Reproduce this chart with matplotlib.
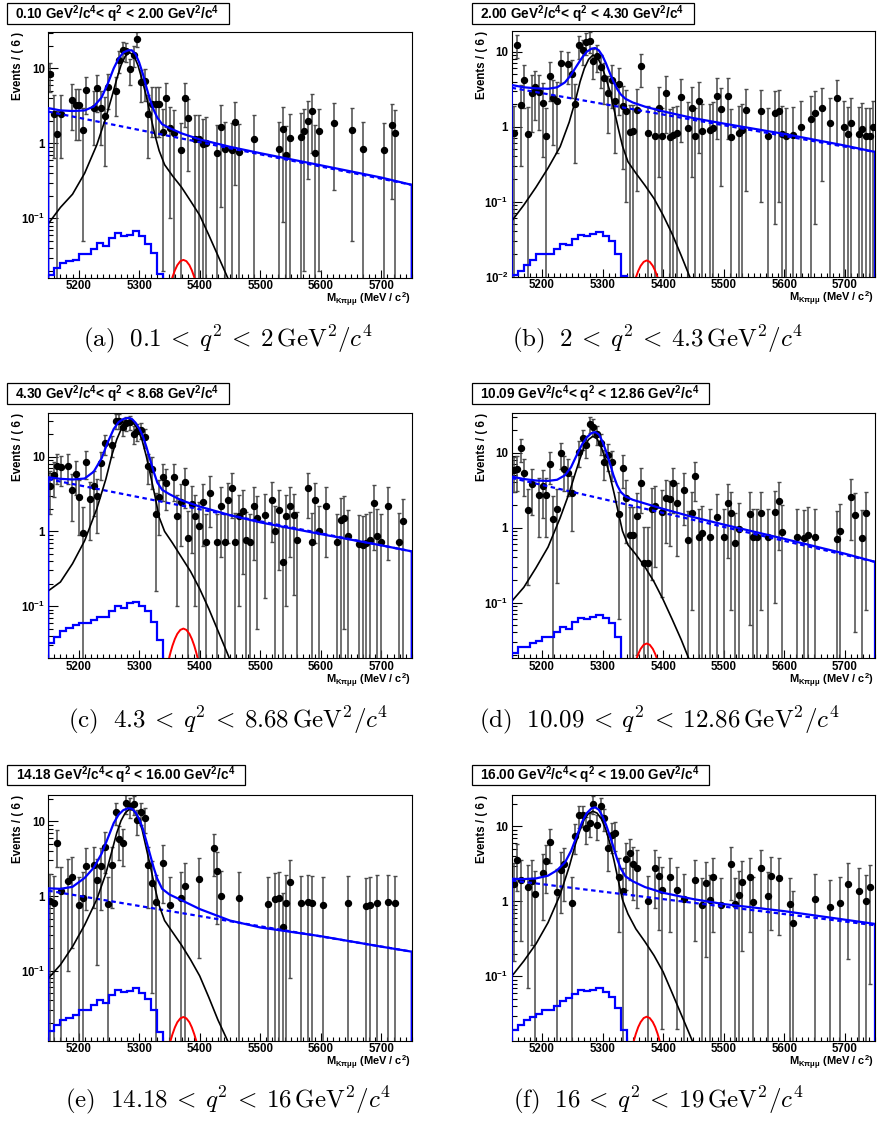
#!/usr/bin/env python3
"""
Six RooFit-style mass fits in q^2 bins, redrawn with matplotlib.
"""
import numpy as np
import matplotlib
matplotlib.use("Agg")
import matplotlib.pyplot as plt
from matplotlib.patches import Rectangle
from matplotlib.ticker import LogLocator, MultipleLocator, NullFormatter

# ---------------- data ----------------
# (a) 0.10 < q2 < 2.00
X_A = [5153, 5159, 5165, 5171, 5189, 5195, 5201, 5207, 5213, 5225, 5231, 5237, 5243, 5249, 5261, 5267,
       5273, 5279, 5285, 5291, 5297, 5303, 5309, 5315, 5321, 5327, 5333, 5339, 5345, 5351, 5357, 5369,
       5375, 5381, 5393, 5399, 5405, 5411, 5429, 5435, 5441, 5453, 5459, 5465, 5489, 5531, 5537, 5543,
       5549, 5567, 5573, 5579, 5585, 5591, 5597, 5621, 5651, 5669, 5705, 5717, 5723]
Y_A = [8.3, 2.5, 1.35, 2.5, 3.8, 3.2, 3.2, 1.5, 5.1, 3.0, 5.4, 3.0, 2.3, 5.7, 5.0, 12.8,
       17.4, 17.0, 9.7, 15.0, 24.9, 6.6, 6.8, 2.5, 3.4, 3.4, 3.4, 1.43, 4.0, 1.6, 1.39, 0.81,
       4.0, 2.18, 1.15, 1.15, 0.97, 1.02, 0.74, 1.67, 0.83, 0.81, 1.92, 0.77, 1.13, 0.83, 1.57, 0.71,
       1.18, 1.23, 1.44, 2.0, 2.67, 0.74, 1.44, 1.85, 1.49, 0.83, 0.81, 1.75, 1.39]
ERR_A = [3.4, 1.87, 1.37, 1.87, 2.3, 2.1, 2.1, 1.45, 2.67, 2.05, 2.75, 2.05, 1.8, 2.82, 2.65, 4.23,
         4.94, 4.88, 3.69, 4.58, 5.9, 3.04, 3.09, 1.87, 2.18, 2.18, 2.18, 1.41, 2.37, 1.5, 1.39, 1.06,
         2.37, 1.75, 1.27, 1.27, 1.17, 1.2, 1.02, 1.53, 1.08, 1.06, 1.64, 1.04, 1.26, 1.08, 1.48, 1.0,
         1.29, 1.31, 1.42, 1.67, 1.93, 1.02, 1.42, 1.61, 1.44, 1.08, 1.06, 1.57, 1.39]

# (b) 2.00 < q2 < 4.30
X_B = [5153, 5159, 5165, 5171, 5177, 5183, 5189, 5195, 5201, 5207,
       5213, 5219, 5225, 5231, 5243, 5249, 5255, 5261, 5267, 5273,
       5279, 5285, 5291, 5297, 5303, 5309, 5315, 5321, 5327, 5333,
       5339, 5345, 5351, 5357, 5363, 5375, 5387, 5393, 5399, 5405,
       5411, 5417, 5423, 5429, 5441, 5447, 5453, 5459, 5465, 5477,
       5483, 5489, 5495, 5507, 5513, 5525, 5531, 5537, 5561, 5573,
       5585, 5591, 5597, 5603, 5615, 5627, 5645, 5651, 5663, 5675,
       5687, 5699, 5705, 5711, 5723, 5729, 5735, 5741, 5747]
Y_B = [0.83, 12.4, 1.95, 4.2, 0.79, 2.85, 3.4, 2.9, 2.1, 0.75,
       4.8, 2.4, 2.2, 7.0, 6.8, 5.1, 2.0, 12.2, 10.6, 13.3,
       14.0, 7.6, 8.8, 6.2, 4.5, 2.8, 4.2, 2.2, 3.7, 1.9,
       1.6, 0.86, 0.87, 1.67, 6.4, 0.83, 0.75, 1.8, 0.75, 2.8,
       0.73, 0.77, 0.83, 2.5, 0.97, 1.8, 0.75, 2.2, 0.88, 0.9,
       0.97, 2.6, 1.7, 2.6, 0.73, 0.83, 0.9, 1.67, 1.6, 0.75,
       1.5, 1.6, 0.81, 0.75, 0.77, 1.0, 1.27, 1.5, 1.76, 1.13,
       2.4, 1.0, 0.79, 1.13, 0.79, 0.92, 0.75, 0.75, 1.0]
ERR_B = [1.08, 4.17, 1.65, 2.42, 1.05, 2.0, 2.18, 2.01, 1.71, 1.02,
         2.59, 1.83, 1.75, 3.13, 3.09, 2.67, 1.67, 4.13, 3.85, 4.32,
         4.43, 3.26, 3.51, 2.95, 2.51, 1.98, 2.42, 1.75, 2.28, 1.63,
         1.5, 1.1, 1.1, 1.53, 2.99, 1.08, 1.02, 1.59, 1.02, 1.98,
         1.01, 1.04, 1.08, 1.87, 1.17, 1.59, 1.02, 1.75, 1.11, 1.12,
         1.17, 1.91, 1.54, 1.91, 1.01, 1.08, 1.12, 1.53, 1.5, 1.02,
         1.45, 1.5, 1.06, 1.02, 1.04, 1.18, 1.33, 1.45, 1.57, 1.26,
         1.83, 1.18, 1.05, 1.26, 1.05, 1.13, 1.02, 1.02, 1.18]

# (c) 4.30 < q2 < 8.68
X_C = [5153, 5159, 5165, 5171, 5183, 5189, 5195, 5201, 5207, 5213,
       5219, 5225, 5231, 5237, 5243, 5255, 5261, 5267, 5273, 5279,
       5285, 5291, 5297, 5303, 5309, 5315, 5321, 5327, 5333, 5339,
       5345, 5357, 5363, 5369, 5375, 5381, 5387, 5393, 5399, 5405,
       5411, 5417, 5429, 5435, 5441, 5447, 5453, 5459, 5465, 5471,
       5477, 5483, 5489, 5495, 5507, 5519, 5525, 5531, 5537, 5543,
       5549, 5555, 5561, 5579, 5585, 5591, 5597, 5609, 5627, 5633,
       5639, 5645, 5663, 5669, 5675, 5681, 5687, 5693, 5699, 5711,
       5729, 5735]
Y_C = [4.1, 5.7, 7.6, 7.2, 7.6, 3.6, 5.9, 2.9, 0.95, 8.4,
       2.7, 4.0, 3.0, 8.2, 15.2, 14.5, 30.3, 30.3, 24.7, 28.2,
       28.8, 20.3, 21.8, 23.0, 18.1, 7.6, 6.8, 1.7, 2.9, 5.3,
       4.4, 5.3, 1.59, 2.5, 4.6, 0.81, 2.3, 1.6, 1.19, 2.5,
       0.71, 3.3, 0.71, 2.2, 0.71, 2.6, 3.8, 0.73, 1.59, 1.9,
       0.76, 0.72, 2.16, 1.5, 1.65, 2.65, 1.0, 1.95, 0.39, 1.6,
       2.2, 1.67, 0.77, 3.8, 0.73, 2.6, 1.02, 2.2, 0.71, 1.43,
       1.5, 0.86, 0.68, 0.66, 0.7, 0.77, 2.4, 0.87, 0.71, 2.16,
       0.73, 1.36]
ERR_C = [2.4, 2.82, 3.26, 3.17, 3.26, 2.24, 2.87, 2.01, 1.15, 3.43,
         1.94, 2.37, 2.05, 3.39, 4.61, 4.51, 6.51, 6.51, 5.88, 6.28,
         6.35, 5.33, 5.52, 5.67, 5.03, 3.26, 3.09, 1.54, 2.01, 2.72,
         2.48, 2.72, 1.49, 1.87, 2.54, 1.06, 1.79, 1.5, 1.29, 1.87,
         1.0, 2.15, 1.0, 1.75, 1.0, 1.91, 2.31, 1.01, 1.49, 1.63,
         1.03, 1.0, 1.74, 1.45, 1.52, 1.93, 1.18, 1.65, 0.74, 1.5,
         1.75, 1.53, 1.04, 2.31, 1.01, 1.91, 1.2, 1.75, 1.0, 1.41,
         1.45, 1.1, 0.98, 0.96, 0.99, 1.04, 1.83, 1.1, 1.0, 1.74,
         1.01, 1.38]

# (d) 10.09 < q2 < 12.86
X_D = [5153, 5159, 5165, 5171, 5177, 5183, 5195, 5201, 5207, 5213,
       5219, 5225, 5231, 5237, 5243, 5249, 5261, 5267, 5273, 5279,
       5285, 5291, 5297, 5303, 5309, 5315, 5327, 5333, 5339, 5345,
       5351, 5357, 5363, 5369, 5375, 5381, 5387, 5399, 5405, 5411,
       5417, 5423, 5435, 5441, 5447, 5453, 5459, 5465, 5477, 5489,
       5501, 5507, 5513, 5519, 5525, 5543, 5549, 5555, 5561, 5573,
       5585, 5591, 5597, 5621, 5633, 5639, 5651, 5687, 5693, 5711,
       5717, 5729, 5735]
Y_D = [5.9, 6.0, 11.4, 5.4, 1.72, 3.8, 2.7, 3.6, 2.7, 7.0,
       1.29, 1.75, 9.8, 6.0, 5.4, 2.9, 10.3, 15.5, 12.7, 24.1,
       22.2, 17.7, 13.6, 7.6, 9.3, 7.4, 1.52, 6.3, 2.5, 0.8,
       0.8, 1.44, 3.9, 0.34, 0.34, 1.77, 1.96, 1.63, 2.5, 2.4,
       3.9, 2.15, 3.2, 0.69, 1.55, 4.9, 0.74, 0.84, 0.74, 1.4,
       0.74, 2.1, 1.55, 0.63, 0.95, 1.5, 0.74, 0.74, 1.55, 0.74,
       1.6, 2.3, 0.88, 0.76, 0.72, 0.81, 0.74, 0.7, 0.91, 2.6,
       1.48, 0.72, 1.55]
ERR_D = [2.87, 2.9, 4.0, 2.75, 1.55, 2.31, 1.94, 2.24, 1.94, 3.13,
         1.34, 1.57, 3.7, 2.9, 2.75, 2.01, 3.8, 4.66, 4.22, 5.81,
         5.58, 4.98, 4.36, 3.26, 3.61, 3.22, 1.46, 2.97, 1.87, 1.06,
         1.06, 1.42, 2.34, 0.69, 0.69, 1.57, 1.66, 1.51, 1.87, 1.83,
         2.34, 1.73, 2.12, 0.98, 1.47, 2.62, 1.02, 1.08, 1.02, 1.4,
         1.02, 1.71, 1.47, 0.94, 1.15, 1.45, 1.02, 1.02, 1.47, 1.02,
         1.5, 1.79, 1.11, 1.03, 1.0, 1.06, 1.02, 0.99, 1.13, 1.91,
         1.44, 1.0, 1.47]

# (e) 14.18 < q2 < 16.00
X_E = [5153, 5159, 5165, 5171, 5183, 5189, 5201, 5207, 5213, 5225,
       5231, 5237, 5243, 5249, 5255, 5261, 5267, 5273, 5279, 5285,
       5291, 5297, 5303, 5309, 5315, 5321, 5327, 5339, 5351, 5369,
       5375, 5399, 5423, 5429, 5435, 5465, 5513, 5525, 5531, 5537,
       5543, 5549, 5567, 5579, 5585, 5603, 5645, 5675, 5681, 5693,
       5711, 5723]
Y_E = [0.86, 0.81, 5.1, 1.18, 1.6, 1.78, 0.77, 0.95, 2.55, 2.6,
       1.64, 2.55, 4.6, 0.78, 2.6, 13.2, 5.9, 5.2, 17.6, 16.0,
       16.9, 10.4, 13.2, 11.0, 2.6, 1.5, 0.84, 2.8, 0.76, 0.93,
       1.36, 1.69, 4.35, 2.16, 1.0, 0.95, 0.78, 0.9, 0.93, 0.38,
       0.82, 1.56, 0.8, 0.84, 0.8, 0.77, 0.8, 0.73, 0.77, 0.82,
       0.84, 0.8]
ERR_E = [1.1, 1.06, 2.67, 1.29, 1.5, 1.58, 1.04, 1.15, 1.89, 1.91,
         1.52, 1.89, 2.54, 1.04, 1.91, 4.3, 2.87, 2.7, 4.96, 4.73,
         4.86, 3.82, 4.3, 3.92, 1.91, 1.45, 1.08, 1.98, 1.03, 1.14,
         1.38, 1.54, 2.47, 1.74, 1.18, 1.15, 1.04, 1.12, 1.14, 0.73,
         1.07, 1.48, 1.06, 1.08, 1.06, 1.04, 1.06, 1.01, 1.04, 1.07,
         1.08, 1.06]

# (f) 16.00 < q2 < 19.00
X_F = [5153, 5159, 5165, 5177, 5183, 5189, 5201, 5207, 5213, 5225,
       5231, 5237, 5249, 5255, 5261, 5267, 5273, 5279, 5285, 5291,
       5297, 5303, 5309, 5315, 5321, 5327, 5333, 5339, 5345, 5351,
       5357, 5375, 5387, 5393, 5399, 5411, 5423, 5435, 5453, 5465,
       5471, 5477, 5483, 5495, 5513, 5519, 5525, 5531, 5543, 5549,
       5561, 5573, 5579, 5591, 5609, 5615, 5651, 5675, 5693, 5705,
       5723, 5735, 5741]
Y_F = [1.7, 3.6, 1.95, 1.54, 1.89, 1.25, 2.4, 3.5, 6.2, 1.33,
       2.6, 3.1, 0.95, 7.5, 14.0, 14.3, 9.5, 11.1, 19.9, 10.5,
       18.5, 13.0, 5.2, 7.7, 8.1, 2.1, 1.36, 3.7, 4.4, 3.15,
       2.8, 1.0, 2.8, 2.15, 1.43, 2.1, 1.43, 1.07, 1.95, 0.9,
       1.75, 1.05, 2.1, 0.9, 3.15, 0.93, 1.23, 1.81, 2.1, 0.97,
       2.8, 1.17, 2.15, 2.05, 0.93, 0.51, 1.07, 0.84, 0.95, 1.72,
       1.39, 1.02, 1.55]
ERR_F = [1.54, 2.24, 1.65, 1.47, 1.63, 1.32, 1.83, 2.21, 2.95, 1.36,
         1.91, 2.08, 1.15, 3.24, 4.43, 4.47, 3.65, 3.94, 5.28, 3.83,
         5.09, 4.27, 2.7, 3.28, 3.37, 1.71, 1.38, 2.28, 2.48, 2.1,
         1.98, 1.18, 1.98, 1.73, 1.41, 1.71, 1.41, 1.22, 1.65, 1.12,
         1.57, 1.21, 1.71, 1.12, 2.1, 1.14, 1.31, 1.59, 1.71, 1.17,
         1.98, 1.28, 1.73, 1.69, 1.14, 0.85, 1.22, 1.08, 1.15, 1.55,
         1.39, 1.2, 1.47]

# signal component (black), sampled along the curve
SIG_X = [5150, 5170, 5190, 5210, 5230, 5245, 5255, 5263, 5270, 5277, 5284, 5291, 5298, 5305,
         5312, 5319, 5326, 5333, 5342, 5355, 5370, 5385, 5400, 5415, 5430, 5445, 5460]
SIG_A = [0.085, 0.14, 0.21, 0.40, 0.95, 2.2, 4.2, 7.2, 11.0, 14.5, 16.2, 15.0, 11.0, 7.0,
         4.2, 2.3, 1.3, 0.8, 0.52, 0.37, 0.26, 0.17, 0.11, 0.06, 0.032, 0.017, 0.009]
SIG_B = [0.055, 0.09, 0.155, 0.28, 0.54, 1.15, 2.2, 4.0, 6.0, 7.9, 9.0, 8.6, 6.6, 4.6,
         3.0, 1.7, 0.95, 0.55, 0.34, 0.24, 0.165, 0.11, 0.066, 0.037, 0.019, 0.0095, 0.005]
SIG_C = [0.16, 0.21, 0.37, 0.75, 2.0, 5.0, 10.5, 17.0, 23.0, 27.5, 29.5, 28.0, 23.0, 16.5,
         10.0, 5.5, 3.0, 1.55, 1.0, 0.7, 0.45, 0.29, 0.17, 0.092, 0.047, 0.024, 0.012]
SIG_D = [0.104, 0.16, 0.29, 0.55, 1.35, 2.9, 5.3, 8.4, 12.0, 15.0, 16.5, 15.3, 11.8, 8.0,
         5.0, 2.9, 1.6, 0.9, 0.59, 0.44, 0.3, 0.19, 0.11, 0.06, 0.032, 0.016, 0.008]
SIG_E = [0.079, 0.12, 0.21, 0.41, 0.9, 2.0, 4.0, 7.0, 10.2, 13.0, 14.6, 14.0, 11.5, 7.7,
         4.3, 2.4, 1.3, 0.75, 0.47, 0.33, 0.22, 0.14, 0.085, 0.044, 0.022, 0.012, 0.006]
SIG_F = [0.1, 0.16, 0.27, 0.52, 1.23, 2.9, 5.7, 9.0, 12.5, 14.8, 15.9, 15.0, 12.6, 9.3,
         6.0, 3.5, 1.9, 1.05, 0.68, 0.43, 0.29, 0.19, 0.115, 0.06, 0.031, 0.016, 0.008]

# total fit (solid blue)
TOT_X = [5150, 5170, 5190, 5210, 5225, 5238, 5248, 5258, 5266, 5274, 5282, 5288, 5294, 5300,
         5306, 5312, 5318, 5324, 5330, 5338, 5350, 5370, 5400, 5450, 5500, 5600, 5700, 5750]
TOT_A = [2.95, 2.75, 2.7, 2.75, 3.1, 4.1, 6.2, 10.0, 13.5, 16.3, 17.4, 17.4, 15.5, 12.0,
         8.5, 5.6, 3.8, 2.8, 2.2, 1.8, 1.6, 1.36, 1.13, 0.9, 0.74, 0.51, 0.35, 0.28]
TOT_B = [3.6, 3.35, 3.25, 3.2, 3.35, 3.9, 4.9, 6.6, 8.3, 10.0, 11.0, 11.2, 10.4, 8.8,
         6.9, 5.2, 4.0, 3.2, 2.7, 2.35, 2.1, 1.85, 1.6, 1.3, 1.1, 0.8, 0.56, 0.46]
TOT_C = [5.3, 5.05, 4.95, 5.1, 6.3, 9.5, 15.5, 23.5, 29.0, 32.0, 33.0, 32.0, 28.5, 24.0,
         19.0, 13.5, 9.2, 6.3, 4.5, 3.6, 3.15, 2.6, 2.15, 1.65, 1.32, 0.92, 0.65, 0.54]
TOT_D = [4.8, 4.45, 4.25, 4.2, 4.35, 5.0, 6.4, 9.5, 12.8, 16.0, 18.3, 18.8, 17.5, 14.0,
         10.3, 7.3, 5.0, 3.7, 3.0, 2.6, 2.35, 2.1, 1.78, 1.38, 1.1, 0.71, 0.45, 0.35]
TOT_E = [1.27, 1.25, 1.33, 1.75, 2.4, 3.7, 5.9, 9.5, 12.3, 14.2, 15.0, 14.8, 13.2, 10.8,
         8.0, 5.4, 3.6, 2.4, 1.7, 1.25, 1.05, 0.88, 0.67, 0.47, 0.38, 0.29, 0.21, 0.18]
TOT_F = [2.0, 1.98, 2.02, 2.2, 2.6, 3.3, 4.7, 7.6, 11.3, 15.0, 17.4, 17.9, 16.6, 13.6,
         10.4, 7.5, 5.3, 3.7, 2.75, 2.15, 1.85, 1.55, 1.3, 1.07, 0.92, 0.74, 0.57, 0.5]

# combinatorial background (dashed blue), straight on the log axis
BKG_X = [5150, 5750]
BKG_A = [2.65, 0.28]
BKG_B = [3.3, 0.46]
BKG_C = [5.0, 0.54]
BKG_D = [4.6, 0.35]
BKG_E = [1.18, 0.18]
BKG_F = [1.9, 0.48]

# peaking background histogram (blue steps), 10 MeV bins
HIST_EDGES = [5150, 5160, 5170, 5180, 5190, 5200, 5210, 5220, 5230, 5240, 5250,
              5260, 5270, 5280, 5290, 5300, 5310, 5320, 5330, 5340, 5350]
HIST_A = [0.0175, 0.0215, 0.0255, 0.027, 0.028, 0.034, 0.034, 0.039, 0.047, 0.043,
          0.055, 0.064, 0.059, 0.061, 0.068, 0.058, 0.045, 0.035, 0.018, 0.008]
HIST_B = [0.0105, 0.012, 0.0143, 0.0167, 0.0197, 0.0197, 0.0197, 0.0235, 0.0274, 0.026,
          0.032, 0.036, 0.035, 0.037, 0.039, 0.035, 0.030, 0.020, 0.0103, 0.005]
HIST_C = [0.032, 0.038, 0.046, 0.051, 0.055, 0.060, 0.060, 0.066, 0.071, 0.071,
          0.085, 0.10, 0.095, 0.11, 0.115, 0.10, 0.085, 0.062, 0.035, 0.01]
HIST_D = [0.021, 0.026, 0.026, 0.029, 0.031, 0.035, 0.035, 0.040, 0.047, 0.044,
          0.056, 0.063, 0.061, 0.064, 0.068, 0.062, 0.054, 0.035, 0.017, 0.008]
HIST_E = [0.0155, 0.0187, 0.0218, 0.0235, 0.0255, 0.0297, 0.0297, 0.0348, 0.040, 0.0365,
          0.047, 0.055, 0.052, 0.054, 0.058, 0.050, 0.042, 0.030, 0.0153, 0.007]
HIST_F = [0.0195, 0.0227, 0.0264, 0.0284, 0.0314, 0.0358, 0.0358, 0.040, 0.047, 0.051,
          0.059, 0.066, 0.063, 0.065, 0.070, 0.061, 0.053, 0.038, 0.019, 0.008]

# Bs component (red)
RED_X = [5346, 5349, 5352, 5355, 5359, 5363, 5368, 5373, 5378, 5383, 5387, 5391, 5394, 5397, 5400]
RED_A = [0.0085, 0.0109, 0.0136, 0.0165, 0.0203, 0.0238, 0.0269, 0.028, 0.0269, 0.0238,
         0.0203, 0.0165, 0.0136, 0.0109, 0.0085]
RED_B = [0.005, 0.0064, 0.008, 0.0097, 0.0119, 0.0139, 0.0157, 0.0164, 0.0157, 0.0139,
         0.0119, 0.0097, 0.008, 0.0064, 0.005]
RED_C = [0.0152, 0.0195, 0.0243, 0.0295, 0.0363, 0.0425, 0.048, 0.05, 0.048, 0.0425,
         0.0363, 0.0295, 0.0243, 0.0195, 0.0152]
RED_D = [0.0087, 0.0111, 0.0139, 0.0168, 0.0207, 0.0242, 0.0274, 0.0285, 0.0274, 0.0242,
         0.0207, 0.0168, 0.0139, 0.0111, 0.0087]
RED_E = [0.0073, 0.0094, 0.0117, 0.0141, 0.0174, 0.0204, 0.023, 0.024, 0.023, 0.0204,
         0.0174, 0.0141, 0.0117, 0.0094, 0.0073]
RED_F = [0.0088, 0.0113, 0.0141, 0.0171, 0.0211, 0.0246, 0.0278, 0.029, 0.0278, 0.0246,
         0.0211, 0.0171, 0.0141, 0.0113, 0.0088]

TITLES = [
    "0.10 GeV$^{2}$/c$^{4}$< q$^{2}$ < 2.00 GeV$^{2}$/c$^{4}$",
    "2.00 GeV$^{2}$/c$^{4}$< q$^{2}$ < 4.30 GeV$^{2}$/c$^{4}$",
    "4.30 GeV$^{2}$/c$^{4}$< q$^{2}$ < 8.68 GeV$^{2}$/c$^{4}$",
    "10.09 GeV$^{2}$/c$^{4}$< q$^{2}$ < 12.86 GeV$^{2}$/c$^{4}$",
    "14.18 GeV$^{2}$/c$^{4}$< q$^{2}$ < 16.00 GeV$^{2}$/c$^{4}$",
    "16.00 GeV$^{2}$/c$^{4}$< q$^{2}$ < 19.00 GeV$^{2}$/c$^{4}$",
]
CAPTIONS = [
    r"$\mathrm{(a)}\ \ 0.1\:<\:q^2\:<\:2\,\mathrm{GeV}^2/c^4$",
    r"$\mathrm{(b)}\ \ 2\:<\:q^2\:<\:4.3\,\mathrm{GeV}^2/c^4$",
    r"$\mathrm{(c)}\ \ 4.3\:<\:q^2\:<\:8.68\,\mathrm{GeV}^2/c^4$",
    r"$\mathrm{(d)}\ \ 10.09\:<\:q^2\:<\:12.86\,\mathrm{GeV}^2/c^4$",
    r"$\mathrm{(e)}\ \ 14.18\:<\:q^2\:<\:16\,\mathrm{GeV}^2/c^4$",
    r"$\mathrm{(f)}\ \ 16\:<\:q^2\:<\:19\,\mathrm{GeV}^2/c^4$",
]
Y_RANGES = [(0.0162, 30.8), (0.00995, 18.9), (0.020, 38.8), (0.0181, 34.1), (0.01155, 22.8), (0.01387, 26.4)]

# ---------------- layout (pixels of the 877x1121 canvas) ----------------
FIG_W, FIG_H = 877, 1121
AX_BOX = [(48.3, 31.7, 411.7, 277.7), (511.7, 31.0, 875.0, 276.7),
          (48.3, 412.7, 411.7, 658.3), (511.7, 412.7, 875.0, 658.3),
          (48.3, 794.7, 411.7, 1040.7), (511.7, 794.7, 875.0, 1040.7)]
TITLE_BOX = [(7, 3), (471.7, 3), (7, 383), (471.7, 383), (7.3, 764.7), (471.7, 764.7)]
CAPTION_XY = [(228, 339), (658, 339), (228, 720), (659, 720), (228, 1100), (658, 1100)]

plt.rcParams["font.family"] = ["Liberation Sans", "DejaVu Sans"]
plt.rcParams["font.weight"] = "bold"
plt.rcParams["mathtext.fontset"] = "custom"
plt.rcParams["mathtext.rm"] = "Liberation Sans:bold"
plt.rcParams["mathtext.it"] = "Liberation Sans:bold"
plt.rcParams["mathtext.bf"] = "Liberation Sans:bold"
plt.rcParams["axes.linewidth"] = 0.8


def fig_x(px):
    return px / FIG_W


def fig_y(py):
    return 1 - py / FIG_H


def draw_panel(ax, xs, ys, errs, sig, tot, bkg, hist, red, yrange):
    xs, ys, errs = np.asarray(xs), np.asarray(ys), np.asarray(errs)
    lower = np.minimum(errs, ys * 0.999)   # bars that reach zero run off the bottom
    ax.errorbar(xs, ys, yerr=[lower, errs], fmt="o", color="black", ms=4.3,
                ecolor="#4a4a4a", elinewidth=1.1, capsize=1.4, capthick=1.0, zorder=2)

    ax.stairs(hist, HIST_EDGES, baseline=1e-5, color="#0000ff", lw=1.6, zorder=3)
    ax.plot(RED_X, red, color="#ff0000", lw=1.4, zorder=3)
    ax.plot(BKG_X, bkg, color="#0000ff", lw=1.6, ls=(0, (2.0, 1.6)), zorder=3)
    ax.plot(SIG_X, sig, color="black", lw=1.2, zorder=3)
    # total curve closes down to zero at both ends, as RooFit draws it
    tx = np.r_[TOT_X[0], TOT_X, TOT_X[-1]]
    ty = np.r_[1e-5, tot, 1e-5]
    ax.plot(tx, ty, color="#0000ff", lw=1.6, zorder=4)

    ax.set_yscale("log")
    ax.set_yticks([0.01, 0.1, 1, 10], ["$10^{-2}$", "$10^{-1}$", "1", "10"])
    ax.yaxis.set_minor_locator(LogLocator(base=10, subs=np.arange(2, 10)))
    ax.yaxis.set_minor_formatter(NullFormatter())
    ax.xaxis.set_major_locator(MultipleLocator(100))
    ax.xaxis.set_minor_locator(MultipleLocator(10))
    ax.set_xlim(5150, 5750)
    ax.set_ylim(*yrange)
    ax.tick_params(which="both", direction="in", top=False, right=False, width=0.8,
                   labelsize=8.3)
    ax.tick_params(axis="x", which="major", length=6, pad=1.6)
    ax.tick_params(axis="x", which="minor", length=3)
    ax.tick_params(axis="y", which="major", length=7, pad=2.5)
    ax.tick_params(axis="y", which="minor", length=3.5)
    for lab in ax.get_xticklabels() + ax.get_yticklabels():
        lab.set_fontweight("bold")

    ax.text(-0.083, 1.0, "Events / ( 6 )", transform=ax.transAxes, rotation=90,
            ha="center", va="top", fontsize=8.3, fontweight="bold")
    ax.text(0.997, -0.092, r"M$_{K\pi\mu\mu}$ (MeV / c$^{2}$)", transform=ax.transAxes,
            ha="right", va="center", fontsize=7.9, fontweight="bold")


def main():
    fig = plt.figure(figsize=(FIG_W / 100, FIG_H / 100), dpi=100)

    panels = [
        (X_A, Y_A, ERR_A, SIG_A, TOT_A, BKG_A, HIST_A, RED_A),
        (X_B, Y_B, ERR_B, SIG_B, TOT_B, BKG_B, HIST_B, RED_B),
        (X_C, Y_C, ERR_C, SIG_C, TOT_C, BKG_C, HIST_C, RED_C),
        (X_D, Y_D, ERR_D, SIG_D, TOT_D, BKG_D, HIST_D, RED_D),
        (X_E, Y_E, ERR_E, SIG_E, TOT_E, BKG_E, HIST_E, RED_E),
        (X_F, Y_F, ERR_F, SIG_F, TOT_F, BKG_F, HIST_F, RED_F),
    ]

    title_texts = []
    for i, data in enumerate(panels):
        left, top, right, bottom = AX_BOX[i]
        ax = fig.add_axes([fig_x(left), fig_y(bottom), (right - left) / FIG_W, (bottom - top) / FIG_H])
        draw_panel(ax, *data, Y_RANGES[i])

        bx, by = TITLE_BOX[i]
        t = fig.text(fig_x(bx + 8.5), fig_y(by + 11.0), TITLES[i], ha="left", va="center",
                     fontsize=9.8, fontweight="bold", zorder=5)
        title_texts.append((t, bx, by))

        cx, cy = CAPTION_XY[i]
        fig.text(fig_x(cx), fig_y(cy), CAPTIONS[i], ha="center", va="center",
                 fontsize=18, fontweight="normal", math_fontfamily="cm")

    # boxes around the ROOT-style titles, sized from the rendered text, with a thin shadow
    fig.canvas.draw()
    renderer = fig.canvas.get_renderer()
    for t, bx, by in title_texts:
        bb = t.get_window_extent(renderer)
        width = (bb.x1 + 9.5) - bx
        shadow = Rectangle((fig_x(bx + 1.2), fig_y(by + 21.7)), width / FIG_W, 20.5 / FIG_H,
                           transform=fig.transFigure, fc="#555555", ec="none", zorder=3)
        rect = Rectangle((fig_x(bx), fig_y(by + 20.5)), width / FIG_W, 20.5 / FIG_H,
                         transform=fig.transFigure, fc="white", ec="black", lw=0.9, zorder=4)
        fig.add_artist(shadow)
        fig.add_artist(rect)

    fig.savefig("out.png", dpi=100)


if __name__ == "__main__":
    main()
